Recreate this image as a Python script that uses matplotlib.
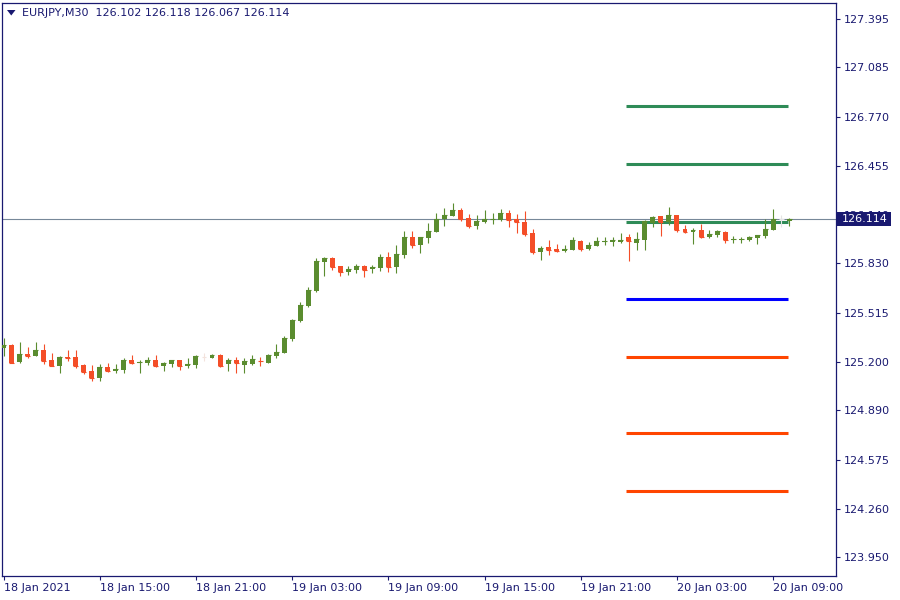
import matplotlib
matplotlib.use('Agg')
import matplotlib.pyplot as plt
from matplotlib.patches import Rectangle, Polygon
import numpy as np

# ---------------- data ----------------
title_symbol = "EURJPY,M30"
title_ohlc = "126.102 126.118 126.067 126.114"

opens = [125.291, 125.309, 125.202, 125.251, 125.240, 125.277, 125.213, 125.176, 125.230, 125.234,
         125.181, 125.142, 125.099, 125.166, 125.142, 125.150, 125.213, 125.195, 125.193, 125.213,
         125.176, 125.189, 125.213, 125.176, 125.183, 125.234, 125.226, 125.245, 125.189, 125.213,
         125.183, 125.189, 125.208, 125.193, 125.240, 125.259, 125.347, 125.464, 125.560, 125.656,
         125.842, 125.865, 125.814, 125.778, 125.790, 125.814, 125.797, 125.803, 125.872, 125.810,
         125.885, 126.000, 125.949, 125.995, 126.034, 126.113, 126.136, 126.173, 126.121, 126.072,
         126.098, 126.112, 126.109, 126.153, 126.115, 126.096, 126.025, 125.906, 125.936, 125.923,
         125.912, 125.919, 125.974, 125.925, 125.944, 125.968, 125.968, 125.968, 126.000, 125.963,
         125.983, 126.089, 126.134, 126.096, 126.141, 126.051, 126.032, 126.045, 126.000, 126.013,
         126.032, 125.981, 125.981, 125.981, 125.993, 126.006, 126.045, 126.115, 126.102]
highs = [125.352, 125.315, 125.326, 125.294, 125.326, 125.315, 125.257, 125.238, 125.277, 125.277,
         125.187, 125.181, 125.187, 125.193, 125.187, 125.224, 125.245, 125.213, 125.230, 125.245,
         125.200, 125.214, 125.214, 125.224, 125.245, 125.256, 125.251, 125.251, 125.224, 125.234,
         125.224, 125.245, 125.234, 125.251, 125.315, 125.366, 125.475, 125.584, 125.680, 125.865,
         125.872, 125.872, 125.815, 125.814, 125.827, 125.821, 125.821, 125.891, 125.904, 125.949,
         126.038, 126.038, 126.001, 126.089, 126.153, 126.185, 126.217, 126.185, 126.147, 126.141,
         126.173, 126.153, 126.179, 126.173, 126.147, 126.166, 126.051, 125.942, 125.981, 125.955,
         125.949, 126.000, 125.981, 125.968, 126.000, 126.000, 126.000, 126.025, 126.019, 126.032,
         126.109, 126.134, 126.135, 126.192, 126.142, 126.077, 126.058, 126.083, 126.045, 126.045,
         126.038, 126.006, 126.000, 126.006, 126.014, 126.115, 126.179, 126.141, 126.118]
lows = [125.240, 125.194, 125.195, 125.227, 125.239, 125.185, 125.176, 125.131, 125.208, 125.160,
        125.123, 125.078, 125.078, 125.138, 125.131, 125.131, 125.189, 125.131, 125.183, 125.170,
        125.144, 125.170, 125.149, 125.163, 125.163, 125.208, 125.224, 125.170, 125.144, 125.131,
        125.131, 125.183, 125.176, 125.192, 125.226, 125.258, 125.336, 125.458, 125.554, 125.650,
        125.752, 125.790, 125.752, 125.759, 125.771, 125.746, 125.771, 125.784, 125.778, 125.771,
        125.867, 125.931, 125.899, 125.963, 126.033, 126.072, 126.135, 126.102, 126.059, 126.053,
        126.091, 126.085, 126.102, 126.064, 126.027, 126.008, 125.893, 125.855, 125.887, 125.906,
        125.906, 125.918, 125.912, 125.919, 125.943, 125.951, 125.944, 125.962, 125.846, 125.919,
        125.919, 126.064, 126.008, 126.077, 126.034, 126.025, 125.955, 125.993, 125.993, 126.002,
        125.962, 125.962, 125.962, 125.974, 125.955, 125.993, 126.044, 126.066, 126.067]
closes = [125.309, 125.196, 125.251, 125.240, 125.277, 125.208, 125.177, 125.234, 125.226, 125.176,
          125.138, 125.099, 125.166, 125.142, 125.155, 125.213, 125.195, 125.200, 125.213, 125.174,
          125.193, 125.213, 125.176, 125.189, 125.238, 125.234, 125.245, 125.174, 125.213, 125.193,
          125.206, 125.219, 125.205, 125.245, 125.264, 125.355, 125.469, 125.565, 125.661, 125.846,
          125.865, 125.810, 125.778, 125.795, 125.814, 125.790, 125.808, 125.872, 125.810, 125.891,
          126.000, 125.949, 126.000, 126.038, 126.115, 126.141, 126.173, 126.115, 126.072, 126.102,
          126.115, 126.115, 126.153, 126.109, 126.098, 126.019, 125.906, 125.929, 125.919, 125.912,
          125.923, 125.981, 125.925, 125.949, 125.974, 125.974, 125.981, 125.981, 125.976, 125.987,
          126.102, 126.128, 126.096, 126.141, 126.045, 126.032, 126.045, 126.000, 126.019, 126.038,
          125.981, 125.985, 125.987, 126.000, 126.013, 126.051, 126.115, 126.115, 126.114]
faint_bars = [25, 97]

levels_resistance = [126.838, 126.467, 126.094]
levels_pivot = [125.601]
levels_support = [125.230, 124.744, 124.373]
bid_price = 126.114

xtick_idx = [0, 12, 24, 36, 48, 60, 72, 84, 96]
xtick_labels = ["18 Jan 2021", "18 Jan 15:00", "18 Jan 21:00", "19 Jan 03:00", "19 Jan 09:00",
                "19 Jan 15:00", "19 Jan 21:00", "20 Jan 03:00", "20 Jan 09:00"]
ytick_vals = [127.395, 127.085, 126.770, 126.455, 126.140, 125.830, 125.515, 125.200,
              124.890, 124.575, 124.260, 123.950]

# ---------------- style ----------------
NAVY = '#191970'
BULL = '#5a8c2f'
BEAR = '#f44e28'
W, H = 900, 600

fig = plt.figure(figsize=(9, 6), dpi=100)
fig.patch.set_facecolor('white')
ax = fig.add_axes([2.3 / W, 1 - 576 / H, (835.7 - 2.3) / W, (576 - 2.5) / H])
ax.set_facecolor('white')

o = np.array(opens); h = np.array(highs); l = np.array(lows); c = np.array(closes)
x = np.arange(len(o))
cols = []
for i in range(len(o)):
    if i in faint_bars:
        cols.append('#f3e3dd' if i < 50 else '#e4e4e4')
    elif c[i] >= o[i]:
        cols.append(BULL)
    else:
        cols.append(BEAR)

# bid line
ax.axhline(bid_price, color='#778899', lw=0.8, zorder=2)

# pivot levels
lx0, lx1 = 77.7, 97.9
ax.hlines(levels_resistance, lx0, lx1, colors='#2e8b57', lw=2.2, zorder=2.5)
ax.hlines(levels_pivot, lx0, lx1, colors='#0000ff', lw=2.2, zorder=2.5)
ax.hlines(levels_support, lx0, lx1, colors='#ff4500', lw=2.2, zorder=2.5)

# candles
ax.vlines(x, l, h, colors=cols, lw=0.8, zorder=3)
bw = 0.62
ax.bar(x, c - o, bottom=o, width=bw, color=cols, linewidth=0, zorder=4)
ax.hlines(c, x - bw / 2, x + bw / 2, colors=cols, lw=0.8, zorder=4)

ax.set_xlim(-0.16, 103.8)
ax.set_ylim(123.830, 127.500)

for s in ax.spines.values():
    s.set_color(NAVY)
    s.set_linewidth(0.9)

ax.yaxis.tick_right()
ax.set_yticks(ytick_vals)
ax.set_yticklabels([f"{v:.3f}" for v in ytick_vals])
ax.set_xticks(xtick_idx)
ax.set_xticklabels(xtick_labels, ha='left')
ax.tick_params(axis='both', colors=NAVY, labelcolor=NAVY, labelsize=8,
               length=3, width=0.8, direction='out')
ax.tick_params(axis='y', pad=2.5)
ax.tick_params(axis='x', pad=2)
for t in ax.get_xticklabels():
    t.set_x(t.get_position()[0])

# current price label box
fig.patches.append(Rectangle((836.5 / W, 1 - 226.5 / H), 54 / W, 14.5 / H,
                             transform=fig.transFigure, facecolor=NAVY,
                             edgecolor='none', zorder=5))
fig.text(842 / W, 1 - 219.3 / H, f"{bid_price:.3f}", color='white', fontsize=8,
         ha='left', va='center', zorder=6)

# title
fig.patches.append(Polygon([(7 / W, 1 - 10 / H), (15.5 / W, 1 - 10 / H), (11.25 / W, 1 - 15.5 / H)],
                           closed=True, transform=fig.transFigure, facecolor=NAVY,
                           edgecolor='none', zorder=6))
fig.text(22.5 / W, 1 - 12.8 / H, f"{title_symbol}  {title_ohlc}", color=NAVY, fontsize=8,
         ha='left', va='center', zorder=6)

fig.savefig('out.png', dpi=100, facecolor='white')
